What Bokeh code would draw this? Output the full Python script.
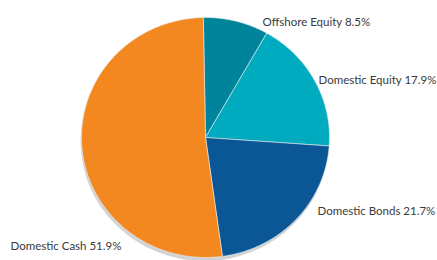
import numpy as np
from bokeh.plotting import figure
from bokeh.models import Range1d, ColumnDataSource
from bokeh.core.properties import value
from bokeh.embed import file_html
from bokeh.resources import INLINE

# ---- data ----
categories = ["Offshore Equity", "Domestic Equity", "Domestic Bonds", "Domestic Cash"]
shares = [8.5, 17.9, 21.7, 51.9]
colors = ["#00849b", "#00aabf", "#0b5795", "#f38821"]

# ---- layout (picture pixel coordinates, y flipped) ----
W, H = 437, 260
def sy(y):  # picture y -> data y
    return H - y

cx, cy = 205, sy(137)
rx, ry = 124, 120
start_deg = 91.0

vals = np.array(shares, dtype=float)
frac = vals / vals.sum()
cum = np.concatenate([[0], np.cumsum(frac)])
starts = np.deg2rad(start_deg - cum[:-1] * 360)
ends = np.deg2rad(start_deg - cum[1:] * 360)

xs, ys = [], []
for a0, a1 in zip(starts, ends):
    n = max(int(abs(a1 - a0) / (2 * np.pi) * 360), 4)
    t = np.linspace(a0, a1, n)
    xs.append(np.concatenate([[cx], cx + rx * np.cos(t)]))
    ys.append(np.concatenate([[cy], cy + ry * np.sin(t)]))

src = ColumnDataSource(dict(xs=xs, ys=ys, color=colors))

p = figure(width=W, height=H, output_backend="svg", toolbar_location=None,
           x_range=Range1d(0, W), y_range=Range1d(0, H),
           min_border=0, outline_line_color=None)
p.axis.visible = False
p.grid.visible = False
p.background_fill_color = "white"
p.border_fill_color = "white"

# shadow
p.ellipse(x=cx - 1, y=cy - 3.5, width=2 * rx, height=2 * ry,
          fill_color="#d2d3d5", line_color=None)

p.patches(xs="xs", ys="ys", fill_color="color", line_color="#e8eef0",
          line_width=0.6, source=src)

label_text = [f"{c} {v}%" for c, v in zip(categories, shares)]
label_x = [262, 318, 317, 10]
label_y = [sy(21), sy(79), sy(210), sy(245)]
p.text(x=label_x, y=label_y, text=label_text, text_font=value("Lato"),
       text_font_size="11.5px", text_color="#3a3a3a", text_baseline="middle",
       text_align="left")

open("out.html", "w").write(file_html(p, INLINE))
